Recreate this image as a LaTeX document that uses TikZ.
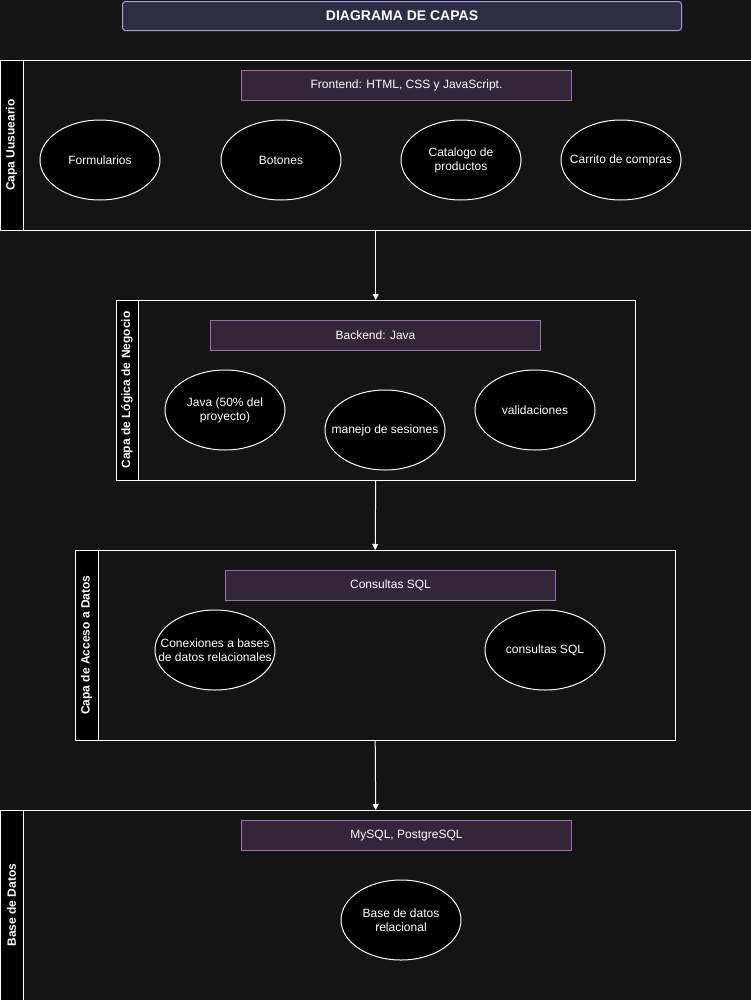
\documentclass[tikz,border=0pt]{standalone}
\usepackage{fontspec}
\setmainfont{Liberation Sans}
\usetikzlibrary{shapes.geometric,arrows.meta}
\definecolor{bgc}{HTML}{141414}
\definecolor{titlefill}{HTML}{2F2D45}
\definecolor{titledraw}{HTML}{A79EDB}
\definecolor{techfill}{HTML}{33263A}
\definecolor{techdraw}{HTML}{9673A6}
\begin{document}
\begin{tikzpicture}[x=1pt,y=-1pt,
  poolbox/.style={draw=white,fill=bgc,line width=1pt},
  hdr/.style={draw=white,fill=black,line width=1pt},
  hdrtext/.style={text=white,font=\fontsize{12}{14}\selectfont\bfseries,rotate=90,anchor=center},
  tech/.style={draw=techdraw,fill=techfill,line width=1pt,text=white,font=\fontsize{12}{14}\selectfont,minimum width=330pt,minimum height=30pt,inner sep=0pt,anchor=north west},
  ell/.style={ellipse,draw=white,fill=black,line width=1pt,minimum width=120pt,minimum height=80pt,inner sep=0pt},
  etext/.style={text=white,font=\fontsize{12}{14}\selectfont,inner sep=0pt,align=center},
  conn/.style={draw=white,line width=1pt,-{Triangle[width=6pt,length=6pt]}}]
\fill[bgc] (0,0) rectangle (751,1001);
\useasboundingbox (0,0) rectangle (751,1001);
% title
\node[draw=titledraw,fill=titlefill,rounded corners=3pt,line width=1pt,minimum width=559pt,minimum height=29pt,inner sep=0pt,text=white,font=\fontsize{14}{16}\selectfont\bfseries,anchor=north west] (title) at (122,1) {DIAGRAMA DE CAPAS};
% pool 1
\draw[poolbox] (0,60) rectangle (751,230);
\draw[hdr] (0,60) rectangle (23,230);
\node[minimum width=751pt,minimum height=170pt,inner sep=0pt,anchor=north west] (p1) at (0,60) {};
\node[hdrtext] (h1) at (11.5,145) {Capa Uusueario};
\node[tech] (t1) at (241,70) {Frontend: HTML, CSS y JavaScript.};
\node[ell] (e11) at (100,160) {};
\node[etext] (e11t) at (e11) {Formularios};
\node[ell] (e12) at (281,160) {};
\node[etext] (e12t) at (e12) {Botones};
\node[ell] (e13) at (461,160) {};
\node[etext] (e13t) at (e13) {Catalogo de\\productos};
\node[ell] (e14) at (621,160) {};
\node[etext] (e14t) at (e14) {Carrito de compras};
% pool 2
\draw[poolbox] (116,300) rectangle (635,480);
\draw[hdr] (116,300) rectangle (138,480);
\node[minimum width=519pt,minimum height=180pt,inner sep=0pt,anchor=north west] (p2) at (116,300) {};
\node[hdrtext] (h2) at (127,390) {Capa de Lógica de Negocio};
\node[tech] (t2) at (210,320) {Backend: Java};
\node[ell] (e21) at (225,410) {};
\node[etext] (e21t) at (e21) {Java (50\% del\\proyecto)};
\node[ell] (e22) at (385,430) {};
\node[etext] (e22t) at (e22) {manejo de sesiones};
\node[ell] (e23) at (535,410) {};
\node[etext] (e23t) at (e23) {validaciones};
% pool 3
\draw[poolbox] (75,550) rectangle (675,740);
\draw[hdr] (75,550) rectangle (98,740);
\node[minimum width=600pt,minimum height=190pt,inner sep=0pt,anchor=north west] (p3) at (75,550) {};
\node[hdrtext] (h3) at (86.5,645) {Capa de Acceso a Datos};
\node[tech] (t3) at (225,570) {Consultas SQL};
\node[ell] (e31) at (215,650) {};
\node[etext] (e31t) at (e31) {Conexiones a bases\\de datos relacionales};
\node[ell] (e32) at (545,650) {};
\node[etext] (e32t) at (e32) {consultas SQL};
% pool 4
\draw[poolbox] (0,810) rectangle (751,1000);
\draw[hdr] (0,810) rectangle (23,1000);
\node[minimum width=751pt,minimum height=190pt,inner sep=0pt,anchor=north west] (p4) at (0,810) {};
\node[hdrtext] (h4) at (11.5,905) {Base de Datos};
\node[tech] (t4) at (241,820) {MySQL, PostgreSQL};
\node[ell] (e41) at (401,920) {};
\node[etext] (e41t) at (e41) {Base de datos\\relacional};
% connectors
\draw[conn] (p1.south) -- (p2.north);
\draw[conn] (p2.south) -- (p3.north);
\draw[conn] (p3.south) -- (p4.north);
\end{tikzpicture}
\end{document}
